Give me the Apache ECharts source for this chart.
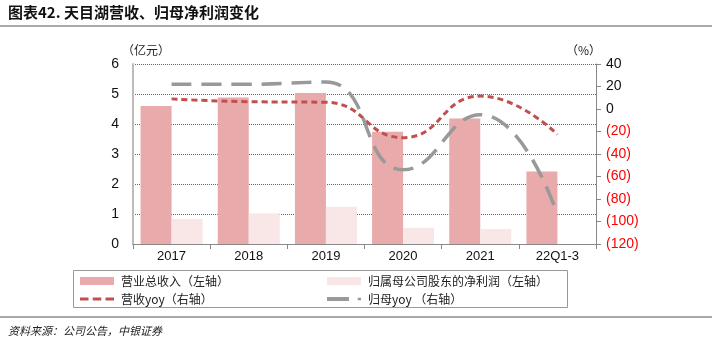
<!DOCTYPE html>
<html>
<head>
<meta charset="utf-8">
<script src="https://cdn.jsdelivr.net/npm/echarts@6/dist/echarts.min.js"></script>
<style>
  html, body { margin: 0; padding: 0; background: #fff; }
  #chart { width: 712px; height: 353px; }
</style>
</head>
<body>
<div id="chart"></div>
<script>
// data
const categories = ['2017', '2018', '2019', '2020', '2021', '22Q1-3'];
const revenue = [4.6, 4.88, 5.03, 3.74, 4.18, 2.42];      // 亿元
const netProfit = [0.83, 1.02, 1.24, 0.54, 0.5, null];    // 亿元
const revenueYoy = [9, 6.5, 6, -25.5, 11.5, -22.5];       // %
const profitYoy = [22, 22, 24, -54, -5, -94];             // %

const cjk = '"Noto Sans CJK SC", "Liberation Sans", sans-serif';
const num = '"Liberation Sans", Arial, sans-serif';

const chart = echarts.init(document.getElementById('chart'));

function legendAt(name, left, top, icon, color) {
    return {
        data: [{ name: name, icon: icon, itemStyle: { color: color } }],
        left: left, top: top,
        itemWidth: 34, itemHeight: 8, itemGap: 0,
        padding: 0,
        textStyle: { fontFamily: cjk, fontSize: 12, color: '#222', padding: [0, 0, 0, 2] },
        selectedMode: false
    };
}

chart.setOption({
    animation: false,
    grid: { left: 133, right: 116, top: 64, bottom: 109 },
    legend: [
        legendAt('营业总收入（左轴）', 80, 275, 'rect', '#E8AAAA'),
        legendAt('归属母公司股东的净利润（左轴）', 327, 275, 'rect', '#F9E6E6'),
        legendAt('营收yoy（右轴）', 80, 293, 'path://M0,0h8v3h-8z M12,0h8v3h-8z M24,0h8v3h-8z', '#C0504D'),
        legendAt('归母yoy （右轴）', 327, 293, 'path://M0,0h20v3.5h-20z M28,0.5h3v2.5h-3z', '#999')
    ],
    graphic: [
        { type: 'text', left: 8, top: 5, style: { text: '图表42. 天目湖营收、归母净利润变化', fontFamily: cjk, fontSize: 15, fontWeight: 'bold', fill: '#111' } },
        { type: 'line', shape: { x1: 0, y1: 26, x2: 712, y2: 26 }, style: { stroke: '#555', lineWidth: 1 } },
        { type: 'text', left: 122, top: 44, style: { text: '（亿元）', fontFamily: cjk, fontSize: 12, fill: '#222' } },
        { type: 'text', left: 566, top: 44, style: { text: '（%）', fontFamily: cjk, fontSize: 12, fill: '#222' } },
        { type: 'rect', shape: { x: 73.5, y: 270.5, width: 494, height: 37 }, style: { fill: 'none', stroke: '#999', lineWidth: 1 } },
        { type: 'line', shape: { x1: 0, y1: 317, x2: 712, y2: 317 }, style: { stroke: '#555', lineWidth: 1 } },
        { type: 'text', left: 8, top: 325, style: { text: '资料来源：公司公告，中银证券', fontFamily: cjk, fontSize: 11, fontStyle: 'italic', fill: '#222' } }
    ],
    xAxis: {
        type: 'category',
        data: categories,
        axisLine: { lineStyle: { color: '#888' } },
        axisTick: { show: true, alignWithLabel: false, length: 5, lineStyle: { color: '#888' } },
        axisLabel: { fontFamily: num, fontSize: 13, color: '#111', margin: 6 }
    },
    yAxis: [
        {
            type: 'value', min: 0, max: 6, interval: 1,
            axisLine: { show: true, lineStyle: { color: '#bbb', width: 2 } },
            axisTick: { show: false },
            axisLabel: { fontFamily: num, fontSize: 14, color: '#111', margin: 14 },
            splitLine: { lineStyle: { color: '#666', type: [1, 1], width: 1 } }
        },
        {
            type: 'value', min: -120, max: 40, interval: 20,
            axisLine: { show: true, lineStyle: { color: '#888' } },
            axisTick: { show: true, inside: false, length: 5, lineStyle: { color: '#888' } },
            axisLabel: {
                fontFamily: num, fontSize: 14, margin: 10,
                formatter: function (v) { return v < 0 ? '{n|(' + (-v) + ')}' : '{p|' + v + '}'; },
                rich: {
                    n: { color: '#ff0000', fontFamily: num, fontSize: 14 },
                    p: { color: '#111', fontFamily: num, fontSize: 14 }
                }
            },
            splitLine: { show: false }
        }
    ],
    series: [
        {
            name: '营业总收入（左轴）', type: 'bar', data: revenue,
            barWidth: 31, barGap: '0%',
            itemStyle: { color: '#E8AAAA' }
        },
        {
            name: '归属母公司股东的净利润（左轴）', type: 'bar', data: netProfit,
            barWidth: 31, barGap: '0%',
            itemStyle: { color: '#F9E6E6' }
        },
        {
            name: '营收yoy（右轴）', type: 'line', yAxisIndex: 1, data: revenueYoy,
            smooth: 0.5, symbol: 'none',
            lineStyle: { color: '#C0504D', width: 3, type: [6, 4] },
            itemStyle: { color: '#C0504D' }
        },
        {
            name: '归母yoy （右轴）', type: 'line', yAxisIndex: 1, data: profitYoy,
            smooth: 0.5, symbol: 'none',
            lineStyle: { color: '#999', width: 3.5, type: [20, 10] },
            itemStyle: { color: '#999' }
        }
    ]
});
</script>
</body>
</html>
